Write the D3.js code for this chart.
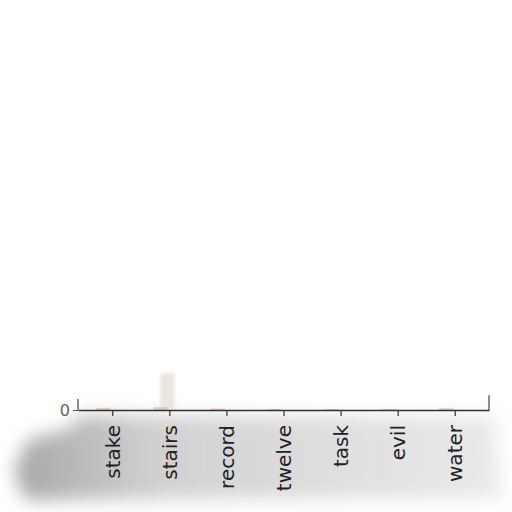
<!DOCTYPE html>
<html><head><meta charset="utf-8">
<script src="https://cdn.jsdelivr.net/npm/d3@7"></script>
<style>body{margin:0;background:#fff}svg{display:block}</style>
</head><body>
<svg id="c" width="512" height="512"></svg>
<script>
const categories = ["stake","stairs","record","twelve","task","evil","water"];
const valuesA = [0.02, 1.0, 0.01, 0.01, 0.0, 0.0, 0.02];
const valuesB = [0.03, 0.05, 0.01, 0.0, 0.0, 0.0, 0.02];
const yTicks = [0];

const svg = d3.select("#c");
const x0 = 78, x1 = 489, y0 = 410;
const x = d3.scalePoint().domain(categories).range([x0, x1]).padding(0.6);
const y = d3.scaleLinear().domain([0, 10]).range([y0, 40]);

const defs = svg.append("defs");
defs.append("filter").attr("id","blur").attr("x","-20%").attr("y","-50%").attr("width","140%").attr("height","200%")
  .append("feGaussianBlur").attr("stdDeviation", 9);
defs.append("filter").attr("id","blur2").append("feGaussianBlur").attr("stdDeviation", 1.5);
const lg = defs.append("linearGradient").attr("id","sh").attr("x1","0").attr("x2","1").attr("y1","0").attr("y2","0");
lg.append("stop").attr("offset","0").attr("stop-color","#888").attr("stop-opacity",0.75);
lg.append("stop").attr("offset","0.3").attr("stop-color","#999").attr("stop-opacity",0.45);
lg.append("stop").attr("offset","1").attr("stop-color","#aaa").attr("stop-opacity",0.25);
const g0 = svg.append("g").attr("filter","url(#blur)");
g0.append("path").attr("d","M28,440 L70,428 L80,416 L495,416 L502,498 L25,500 L14,470 Z").attr("fill","url(#sh)");

// bars
svg.append("g").attr("filter","url(#blur2)").selectAll("rect.a").data(categories).join("rect")
  .attr("x", d => x(d) - 9).attr("width", 14)
  .attr("y", (d,i) => y(valuesA[i])).attr("height", (d,i) => y0 - y(valuesA[i]))
  .attr("fill", "#ece6e0");
svg.append("g").selectAll("rect.b").data(categories).join("rect")
  .attr("x", d => x(d) - 16).attr("width", 14)
  .attr("y", (d,i) => y(valuesB[i]) - 1).attr("height", (d,i) => y0 - y(valuesB[i]) + 1)
  .attr("fill", "#d9a27a").attr("opacity",0.5);

// x axis
const xa = svg.append("g").attr("transform", `translate(0,${y0})`)
  .call(d3.axisBottom(x).tickSize(6).tickSizeOuter(0));
xa.select(".domain").attr("stroke","#333").attr("stroke-width",1.4);
xa.selectAll(".tick line").attr("stroke","#333").attr("stroke-width",1.2);
xa.selectAll(".tick text")
  .attr("font-family","DejaVu Sans").attr("font-size",20).attr("fill","#222")
  .attr("transform","rotate(-90)").attr("text-anchor","end")
  .attr("x",-15).attr("y",0).attr("dy","0.35em");

// y axis (only 0)
const ya = svg.append("g").attr("transform", `translate(${x0},0)`)
  .call(d3.axisLeft(y).tickValues(yTicks).tickSize(5).tickSizeOuter(0));
ya.select(".domain").remove();
ya.selectAll(".tick line").attr("stroke","#555");
ya.selectAll(".tick text").attr("font-family","DejaVu Sans").attr("font-size",16).attr("fill","#666").attr("x",-8);

// short spines
svg.append("line").attr("x1",x0).attr("x2",x0).attr("y1",y(0.3)).attr("y2",y0).attr("stroke","#444").attr("stroke-width",1.2);
svg.append("line").attr("x1",x1).attr("x2",x1).attr("y1",y(0.4)).attr("y2",y0).attr("stroke","#444").attr("stroke-width",1.2);
</script>
</body></html>
